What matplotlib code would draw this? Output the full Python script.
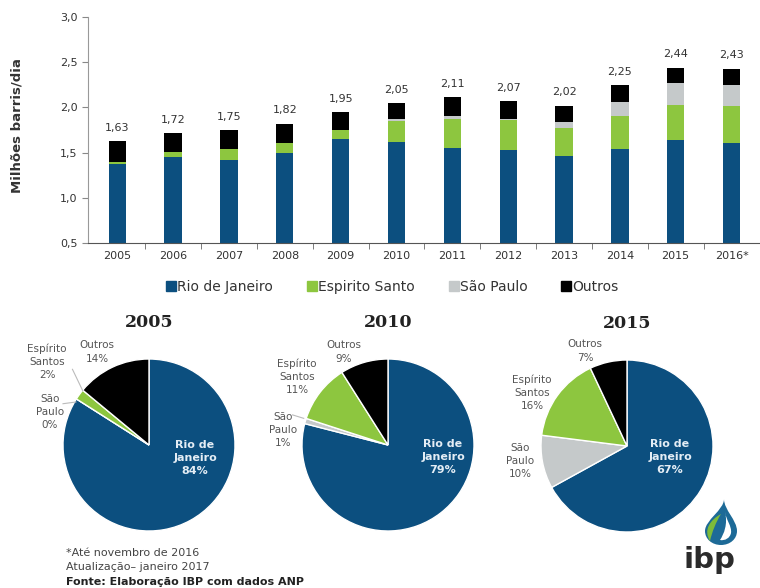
import matplotlib.pyplot as plt
from matplotlib.lines import Line2D
from matplotlib.path import Path
from matplotlib.patches import PathPatch

# production by state, million barrels per day
years = ["2005", "2006", "2007", "2008", "2009", "2010",
         "2011", "2012", "2013", "2014", "2015", "2016*"]
rio = [1.37, 1.45, 1.42, 1.50, 1.65, 1.62, 1.55, 1.53, 1.46, 1.54, 1.64, 1.61]
espirito = [0.03, 0.06, 0.12, 0.11, 0.10, 0.23, 0.32, 0.33, 0.31, 0.36, 0.39, 0.40]
sao_paulo = [0.00, 0.00, 0.00, 0.00, 0.00, 0.02, 0.03, 0.01, 0.07, 0.16, 0.24, 0.24]
outros = [0.23, 0.21, 0.21, 0.21, 0.20, 0.18, 0.21, 0.20, 0.18, 0.19, 0.17, 0.18]
totals = [1.63, 1.72, 1.75, 1.82, 1.95, 2.05, 2.11, 2.07, 2.02, 2.25, 2.44, 2.43]

series_names = ["Rio de Janeiro", "Espirito Santo", "São Paulo", "Outros"]

# share by state (%) for the pie years
pie_years = ["2005", "2010", "2015"]
share_rio = [84, 79, 67]
share_sp = [0, 1, 10]
share_es = [2, 11, 16]
share_outros = [14, 9, 7]

BLUE = "#0c4f7f"
GREEN = "#8dc63f"
GRAY = "#c5c9ca"
BLACK = "#000000"
TXT = "#333333"

W, H = 760, 588
fig = plt.figure(figsize=(W / 100, H / 100), dpi=100)


def fx(x):
    return x / W


def fy(y):
    return 1 - y / H


# ---- stacked bars ----
ax = fig.add_axes([fx(88), fy(243), (760 - 88) / W, (243 - 17) / H])
x = list(range(len(years)))
bw = 0.31
bottom = [0.0] * len(years)
for vals, col in zip([rio, espirito, sao_paulo, outros], [BLUE, GREEN, GRAY, BLACK]):
    ax.bar(x, vals, bw, bottom=bottom, color=col, linewidth=0)
    bottom = [b + v for b, v in zip(bottom, vals)]

for xi, t in zip(x, totals):
    ax.annotate(f"{t:.2f}".replace(".", ","), (xi, t), xytext=(0, 9.5),
                textcoords="offset points", ha="center", va="center",
                fontsize=8, color=TXT)

ax.set_ylim(0.5, 3.0)
ax.set_xlim(-0.525, 11.51)
yt = [0.5, 1.0, 1.5, 2.0, 2.5, 3.0]
ax.set_yticks(yt)
ax.set_yticklabels([f"{v:.1f}".replace(".", ",") for v in yt])
ax.set_xticks(x)
ax.set_xticklabels(years)
ax.set_xticks([i + 0.5 for i in x[:-1]], minor=True)
ax.tick_params(axis="x", which="major", length=0, pad=6, labelsize=8, labelcolor=TXT)
ax.tick_params(axis="x", which="minor", length=4, color="#666666", direction="out")
ax.tick_params(axis="y", length=4, color="#888888", labelsize=8, labelcolor=TXT)
for s in ["top", "right"]:
    ax.spines[s].set_visible(False)
ax.spines["left"].set_color("#999999")
ax.spines["bottom"].set_color("#555555")
ax.set_ylabel("Milhões barris/dia", fontsize=9.5, fontweight="bold", color=TXT)
ax.yaxis.set_label_coords(-0.096, 0.52)

handles = [Line2D([], [], marker="s", linestyle="", markersize=7, color=c)
           for c in [BLUE, GREEN, GRAY, BLACK]]
fig.legend(handles, series_names, loc="center", bbox_to_anchor=(fx(392), fy(287)),
           ncol=4, frameon=False, fontsize=10, handletextpad=0.05,
           columnspacing=2.4, handlelength=0.8, labelcolor=TXT)

# ---- pies ----
R = 86
centers = [(149, 445), (388, 445), (627, 446)]
small_lbl = [
    [(-1.151, 0.384), (-1.186, 0.965), (-0.605, 1.081)],
    [(-1.221, 0.174), (-1.058, 0.791), (-0.512, 1.081)],
    [(-1.244, -0.174), (-1.105, 0.616), (-0.488, 1.105)],
]
rj_lbl = [(0.535, -0.151), (0.64, -0.14), (0.5, -0.128)]

for i, (cx, cy) in enumerate(centers):
    half = 120
    pa = fig.add_axes([fx(cx - half), fy(cy + half), 2 * half / W, 2 * half / H])
    shares = [share_rio[i], share_sp[i], share_es[i], share_outros[i]]
    pa.pie(shares, colors=[BLUE, GRAY, GREEN, BLACK], startangle=90,
           counterclock=False, radius=1,
           wedgeprops=dict(edgecolor="white", linewidth=1))
    lim = half / R
    pa.set_xlim(-lim, lim)
    pa.set_ylim(-lim, lim)
    pa.axis("off")
    pa.text(0, 1.42, pie_years[i], ha="center", va="center", fontsize=12.5,
            fontweight="bold", family="DejaVu Serif", color="#222222", clip_on=False)
    rx, ry = rj_lbl[i]
    pa.text(rx, ry, f"Rio de\nJaneiro\n{share_rio[i]}%", ha="center", va="center",
            fontsize=8, fontweight="bold", color="#e4edf5", linespacing=1.4)
    texts = [f"São\nPaulo\n{share_sp[i]}%", f"Espírito\nSantos\n{share_es[i]}%",
             f"Outros\n{share_outros[i]}%"]
    for (lx, ly), t in zip(small_lbl[i], texts):
        pa.text(lx, ly, t, ha="center", va="center", fontsize=7.5,
                color="#555555", linespacing=1.4, clip_on=False)
    if i == 0:
        pa.plot([-0.89, -0.77], [0.88, 0.63], color="#bbbbbb", lw=0.8)
        pa.plot([-1.0, -0.85], [0.48, 0.5], color="#bbbbbb", lw=0.8)
    if i == 1:
        pa.plot([-1.11, -0.98], [0.35, 0.31], color="#bbbbbb", lw=0.8)

# ---- notes ----
fig.text(fx(66), fy(553), "*Até novembro de 2016", fontsize=8, color="#444444", va="center")
fig.text(fx(66), fy(567), "Atualização– janeiro 2017", fontsize=8, color="#444444", va="center")
fig.text(fx(66), fy(582), "Fonte: Elaboração IBP com dados ANP", fontsize=8,
         fontweight="bold", color="#222222", va="center")

# ---- logo ----
lg = fig.add_axes([fx(690), fy(582), 60 / W, 84 / H])
lg.set_xlim(0, 60)
lg.set_ylim(0, 84)
lg.axis("off")
C4 = Path.CURVE4
drop = Path([(34, 83), (34, 72), (47, 62), (47, 51), (47, 43), (40, 37), (31, 37),
             (22, 37), (15, 43), (15, 51), (15, 62), (34, 72), (34, 83)],
            [Path.MOVETO, C4, C4, C4, C4, C4, C4, C4, C4, C4, C4, C4, C4])
lg.add_patch(PathPatch(drop, facecolor="#1d6a97", edgecolor="none"))
inner = Path([(35, 70), (36, 62), (42, 56), (41, 49), (40, 44), (35, 41), (30, 42),
              (34, 48), (38, 58), (35, 70)],
             [Path.MOVETO, C4, C4, C4, C4, C4, C4, C4, C4, C4])
lg.add_patch(PathPatch(inner, facecolor="white", edgecolor="none"))
leaf = Path([(31, 68), (20, 62), (13, 52), (20, 41), (22, 50), (26, 60), (31, 68)],
            [Path.MOVETO, C4, C4, C4, C4, C4, C4])
lg.add_patch(PathPatch(leaf, facecolor="#7dbb3a", edgecolor="none"))
lg.text(19, 14, "ibp", ha="center", va="baseline", fontsize=21,
        fontweight="bold", color="#2b2b2b")

fig.savefig("out.png", dpi=100)
